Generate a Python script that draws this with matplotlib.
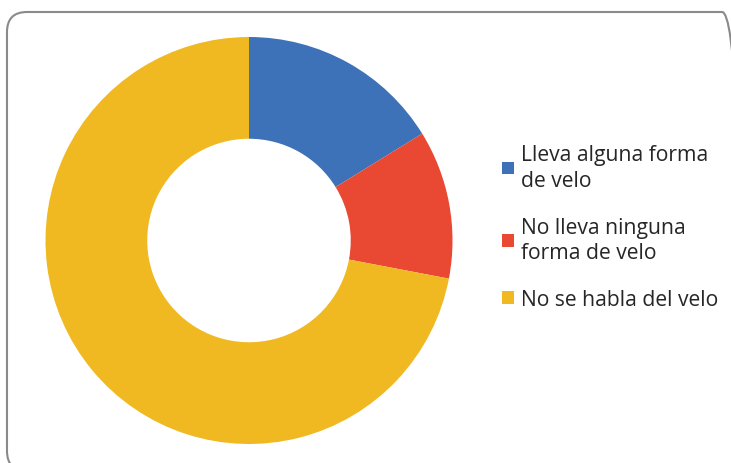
import matplotlib.pyplot as plt
from matplotlib.patches import FancyBboxPatch

labels = ["Lleva alguna forma\nde velo", "No lleva ninguna\nforma de velo", "No se habla del velo"]
values = [16.2, 11.8, 72.0]
colors = ["#3D72B9", "#E94833", "#F0B922"]

W, H = 731, 464
fig = plt.figure(figsize=(W / 100, H / 100), dpi=100)

# rounded frame around the chart (right and bottom edges run off the picture)
frame = FancyBboxPatch((0.07, -0.08), 7.35, (H - 13 + 8) / 100,
                       boxstyle="round,pad=0,rounding_size=0.2",
                       transform=fig.dpi_scale_trans, fill=False,
                       edgecolor="#8a8a8a", linewidth=1.5)
fig.patches.append(frame)

# donut
cx, cy, r = 249, H - 241.5, 203.5
ax = fig.add_axes([(cx - r) / W, (cy - r) / H, 2 * r / W, 2 * r / H])
wedges, _ = ax.pie(values, colors=colors, startangle=90, counterclock=False,
                   radius=1, wedgeprops=dict(width=0.5, linewidth=0))
ax.set_xlim(-1, 1)
ax.set_ylim(-1, 1)
ax.axis("off")

leg = fig.legend(wedges, labels, loc="upper left",
                 bbox_to_anchor=(483 / W, (H - 126) / H),
                 frameon=False, handlelength=0.55,
                 handleheight=0.55, handletextpad=0.33, labelspacing=1.22,
                 prop={"family": "Open Sans", "size": 15.2})
for t in leg.get_texts():
    t.set_color("#262626")
    t.set_linespacing(1.3)

fig.savefig("out.png", dpi=100)
